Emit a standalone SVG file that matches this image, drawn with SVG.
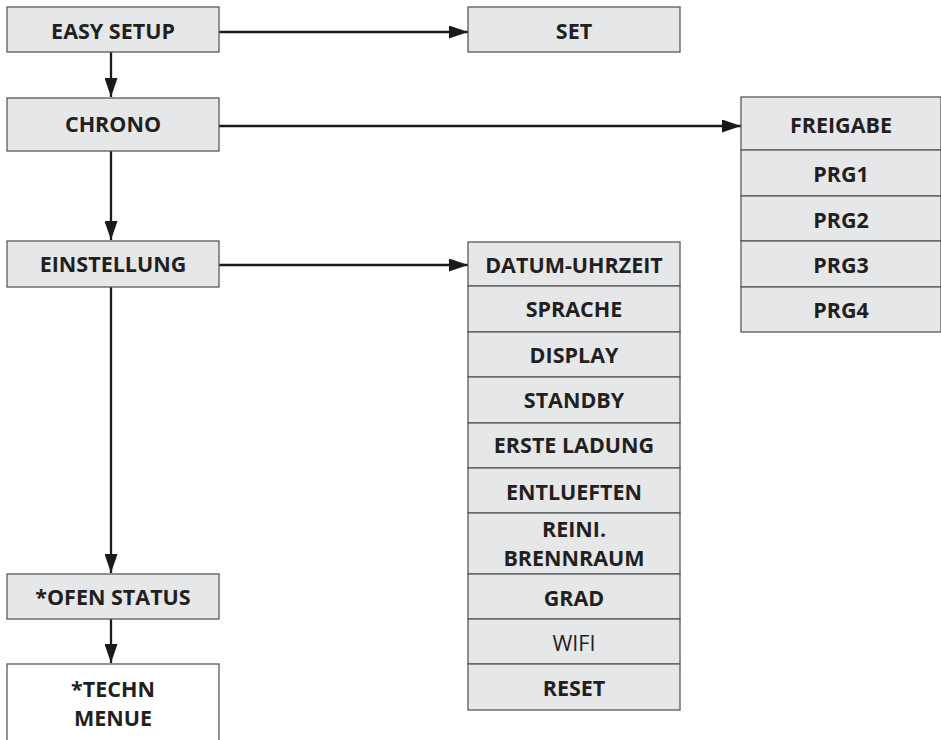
<svg xmlns="http://www.w3.org/2000/svg" width="941" height="740" viewBox="0 0 941 740">
<defs>
<marker id="ah" markerUnits="userSpaceOnUse" markerWidth="19" markerHeight="13" refX="19" refY="6.5" orient="auto">
<path d="M0,0 L19,6.5 L0,13 Z" fill="#1a1a1a"/>
</marker>
<style>
.box{fill:#e6e7e8;stroke:#58595b;stroke-width:1.3}
.wbox{fill:#ffffff;stroke:#58595b;stroke-width:1.3}
.t{font-family:"Open Sans","Liberation Sans",sans-serif;font-weight:bold;font-size:21.5px;fill:#231f20;text-anchor:middle}
.r{font-weight:normal}
.c{stroke:#1a1a1a;stroke-width:2.3;fill:none}
</style>
</defs>
<rect width="941" height="740" fill="#ffffff"/>
<g id="connectors">
<line class="c" x1="219" y1="32" x2="468" y2="32" marker-end="url(#ah)"/>
<line class="c" x1="219" y1="126" x2="741" y2="126" marker-end="url(#ah)"/>
<line class="c" x1="219" y1="265" x2="468" y2="265" marker-end="url(#ah)"/>
<line class="c" x1="111" y1="52" x2="111" y2="97" marker-end="url(#ah)"/>
<line class="c" x1="111" y1="151" x2="111" y2="240" marker-end="url(#ah)"/>
<line class="c" x1="111" y1="287" x2="111" y2="573" marker-end="url(#ah)"/>
<line class="c" x1="111" y1="619" x2="111" y2="663" marker-end="url(#ah)"/>
</g>
<g id="easy-setup"><rect class="box" x="7" y="7" width="212" height="45"/><text class="t" x="113" y="39">EASY SETUP</text></g>
<g id="set"><rect class="box" x="468" y="7" width="212" height="45"/><text class="t" x="574" y="39">SET</text></g>
<g id="chrono"><rect class="box" x="7" y="98" width="212" height="53"/><text class="t" x="113" y="132">CHRONO</text></g>
<g id="einstellung"><rect class="box" x="7" y="241" width="212" height="46"/><text class="t" x="113" y="272">EINSTELLUNG</text></g>
<g id="ofen-status"><rect class="box" x="7" y="574" width="212" height="45"/><text class="t" x="113" y="605">*OFEN STATUS</text></g>
<g id="techn-menue"><rect class="wbox" x="7" y="664" width="212" height="90"/><text class="t" x="113" y="697">*TECHN</text><text class="t" x="113" y="726">MENUE</text></g>
<g id="chrono-menu">
<rect class="box" x="741" y="97" width="200" height="53"/><text class="t" x="841" y="133">FREIGABE</text>
<rect class="box" x="741" y="150" width="200" height="46"/><text class="t" x="841" y="182">PRG1</text>
<rect class="box" x="741" y="196" width="200" height="45"/><text class="t" x="841" y="228">PRG2</text>
<rect class="box" x="741" y="241" width="200" height="46"/><text class="t" x="841" y="273">PRG3</text>
<rect class="box" x="741" y="287" width="200" height="45"/><text class="t" x="841" y="318">PRG4</text>
</g>
<g id="einstellung-menu">
<rect class="box" x="468" y="242" width="212" height="44"/><text class="t" x="574" y="273">DATUM-UHRZEIT</text>
<rect class="box" x="468" y="286" width="212" height="46"/><text class="t" x="574" y="317">SPRACHE</text>
<rect class="box" x="468" y="332" width="212" height="45"/><text class="t" x="574" y="363">DISPLAY</text>
<rect class="box" x="468" y="377" width="212" height="46"/><text class="t" x="574" y="408">STANDBY</text>
<rect class="box" x="468" y="423" width="212" height="45"/><text class="t" x="574" y="453">ERSTE LADUNG</text>
<rect class="box" x="468" y="468" width="212" height="45"/><text class="t" x="574" y="500">ENTLUEFTEN</text>
<rect class="box" x="468" y="513" width="212" height="61"/><text class="t" x="574" y="537">REINI.</text><text class="t" x="574" y="566">BRENNRAUM</text>
<rect class="box" x="468" y="574" width="212" height="45"/><text class="t" x="574" y="606">GRAD</text>
<rect class="box" x="468" y="619" width="212" height="45"/><text class="t r" x="574" y="651">WIFI</text>
<rect class="box" x="468" y="664" width="212" height="46"/><text class="t" x="574" y="696">RESET</text>
</g>
</svg>
